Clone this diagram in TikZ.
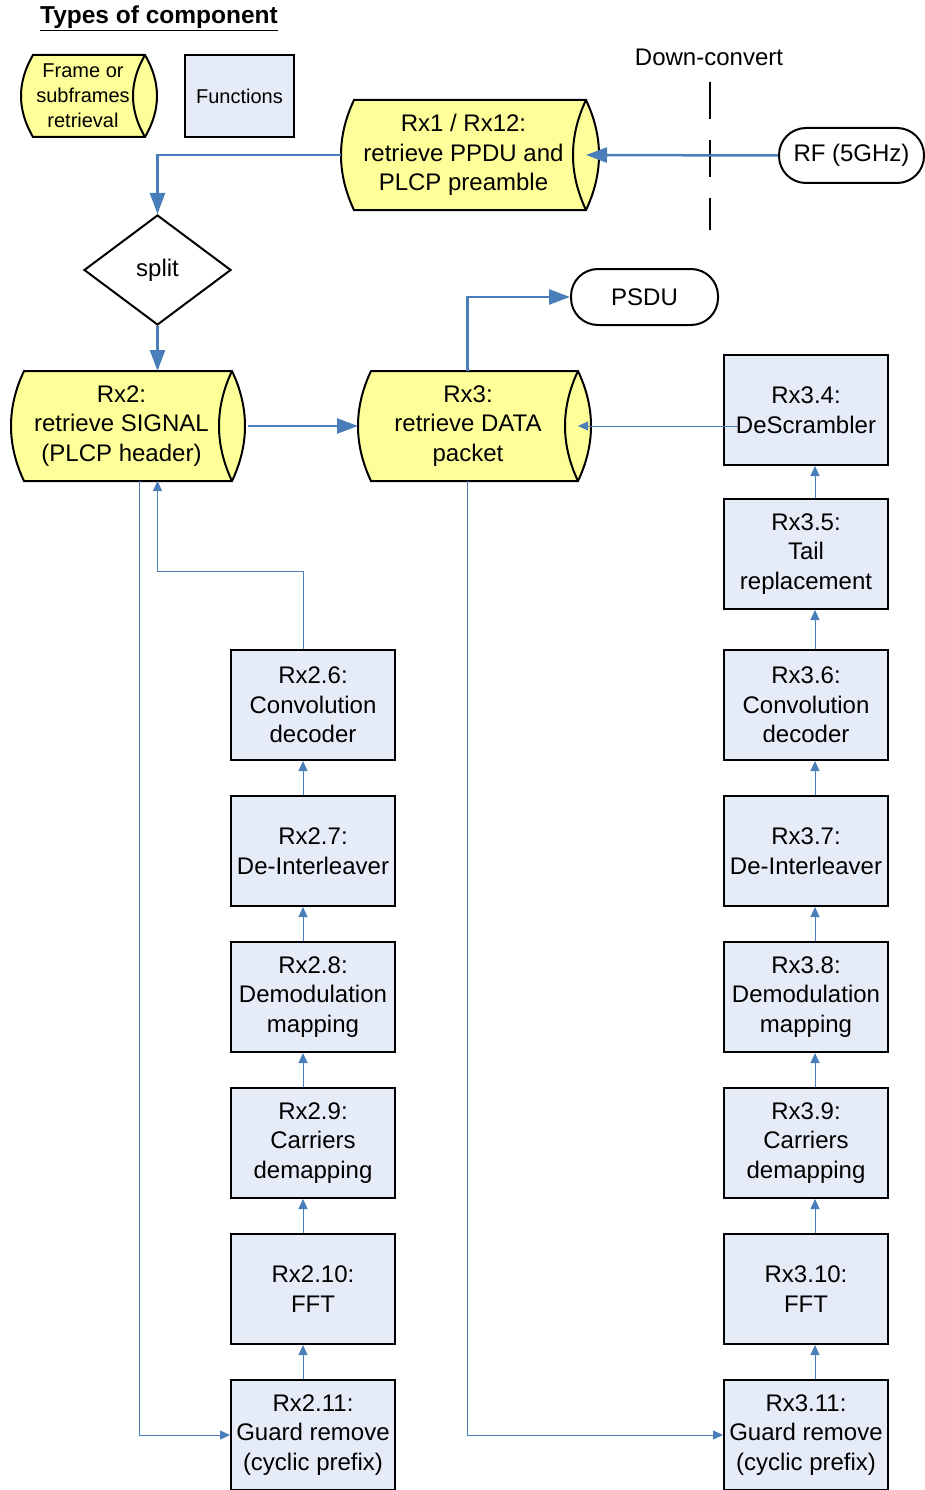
\documentclass[tikz,border=0pt]{standalone}
\usepackage{fontspec}
\setmainfont{Liberation Sans}
\usetikzlibrary{arrows.meta,shapes.geometric,calc}

\definecolor{frameyellow}{HTML}{FFFF99}
\definecolor{funcblue}{HTML}{E6ECF7}
\definecolor{linkblue}{HTML}{4A7EBB}

% Horizontal cylinder with shallow arc ends: #1 name, #2 left, #3 top,
% #4 right, #5 bottom, #6 end depth, #7 text style, #8 text
\newcommand\framecyl[8]{%
  \pgfmathsetmacro\fcL{#2+#6}%
  \pgfmathsetmacro\fcR{#4-#6}%
  \pgfmathsetmacro\fcM{(#3+#5)/2}%
  \pgfmathsetmacro\fcK{4*#6/3}%
  \pgfmathsetmacro\fcA{#3+2*(#5-#3)/6}%
  \pgfmathsetmacro\fcB{#5-2*(#5-#3)/6}%
  \filldraw[cylline] (\fcR,#3) .. controls (\fcR+\fcK,\fcA) and (\fcR+\fcK,\fcB) .. (\fcR,#5)
    -- (\fcL,#5) .. controls (\fcL-\fcK,\fcB) and (\fcL-\fcK,\fcA) .. (\fcL,#3) -- cycle;
  \draw[cylline,fill=none] (\fcR,#3) .. controls (\fcR-\fcK,\fcA) and (\fcR-\fcK,\fcB) .. (\fcR,#5);
  \node[cylbound,minimum width={#4-#2},minimum height={#5-#3}] (#1) at ({(#2+#4)/2},\fcM) {};
  \coordinate (#1-e) at (\fcR,\fcM);
  \node[#7] (#1-t) at ({(#2+#4)/2-#6/2},\fcM) {#8};
}

\begin{document}
\begin{tikzpicture}[x=1pt,y=-1pt,
  bigfont/.style={font=\fontsize{24}{29.5}\selectfont},
  smallfont/.style={font=\fontsize{20}{25}\selectfont},
  cylline/.style={draw=black,line width=2pt,fill=frameyellow,line join=miter},
  cylbound/.style={draw=none,fill=none,inner sep=0pt,outer sep=0pt},
  cyltext/.style={bigfont,align=center,inner sep=0pt},
  legtext/.style={smallfont,align=center,inner sep=0pt},
  funcbox/.style={draw=black,line width=2pt,fill=funcblue,minimum width=164pt,
    minimum height=110pt,inner sep=0pt,align=center,bigfont},
  terminal/.style={draw=black,line width=2pt,fill=white,rectangle,rounded corners=27pt,
    inner sep=0pt,bigfont},
  thicklink/.style={draw=linkblue,line width=2.5pt,-{Triangle[length=21pt,width=15pt]}},
  thinlink/.style={draw=linkblue,line width=1pt,-{Triangle[length=10pt,width=9pt]}},
]
\useasboundingbox (0,0) rectangle (925,1490);

% legend
\node[font=\bfseries\fontsize{24.5}{29}\selectfont] (title) at (159,18) {\underline{Types of component}};
\framecyl{legframe}{21}{55}{157}{137}{12}{legtext}{Frame or\\subframes\\retrieval}
\node[draw=black,line width=2pt,fill=funcblue,minimum width=109pt,minimum height=82pt,
  inner sep=0pt,smallfont] (legfunc) at (239.5,96) {Functions};

% receiver front end
\node[bigfont] (dc) at (709,57) {Down-convert};
\coordinate (dctop) at (710,82);
\coordinate (dcbot) at (710,230);
\draw[line width=2pt,dash pattern=on 37pt off 21pt] (dctop) -- (dcbot);
\node[terminal,minimum width=145pt,minimum height=55pt] (rf) at (851.5,155.5) {RF (5GHz)};
\framecyl{rx1}{341}{100}{599}{210}{13}{cyltext}{Rx1 / Rx12:\\retrieve PPDU and\\PLCP preamble}
\draw[thicklink] (rf.west) -- (rx1-e);

\node[draw=black,line width=2pt,fill=white,diamond,inner sep=0pt,minimum width=147pt,
  minimum height=110pt,bigfont] (split) at (157.5,270) {split};
\draw[thicklink] (rx1.west) -| (split.north);

% frame retrieval stages
\framecyl{rx2}{11}{371}{245}{481}{13}{cyltext}{Rx2:\\retrieve SIGNAL\\(PLCP header)}
\framecyl{rx3}{358}{371}{591}{481}{13}{cyltext}{Rx3:\\retrieve DATA\\packet}
\node[terminal,minimum width=147pt,minimum height=56pt] (psdu) at (644.5,297) {PSDU};

\draw[thicklink] (split.south) -- (split.south |- rx2.north);
\draw[thicklink] ([xshift=3pt]rx2.east) -- (rx3.west);
\draw[thicklink] ([xshift=-7pt]rx3.north) |- (psdu.west);

% SIGNAL chain
\node[funcbox] (rx26)  at (313,705)  {Rx2.6:\\Convolution\\decoder};
\node[funcbox] (rx27)  at (313,851)  {Rx2.7:\\De-Interleaver};
\node[funcbox] (rx28)  at (313,997)  {Rx2.8:\\Demodulation\\mapping};
\node[funcbox] (rx29)  at (313,1143) {Rx2.9:\\Carriers\\demapping};
\node[funcbox] (rx210) at (313,1289) {Rx2.10:\\FFT};
\node[funcbox] (rx211) at (313,1435) {Rx2.11:\\Guard remove\\(cyclic prefix)};

% DATA chain
\node[funcbox] (rx34)  at (806,410)  {Rx3.4:\\DeScrambler};
\node[funcbox] (rx35)  at (806,554)  {Rx3.5:\\Tail\\replacement};
\node[funcbox] (rx36)  at (806,705)  {Rx3.6:\\Convolution\\decoder};
\node[funcbox] (rx37)  at (806,851)  {Rx3.7:\\De-Interleaver};
\node[funcbox] (rx38)  at (806,997)  {Rx3.8:\\Demodulation\\mapping};
\node[funcbox] (rx39)  at (806,1143) {Rx3.9:\\Carriers\\demapping};
\node[funcbox] (rx310) at (806,1289) {Rx3.10:\\FFT};
\node[funcbox] (rx311) at (806,1435) {Rx3.11:\\Guard remove\\(cyclic prefix)};

% links inside the chains
\foreach \a/\b in {rx211/rx210,rx210/rx29,rx29/rx28,rx28/rx27,rx27/rx26}
  \draw[thinlink] ([xshift=-10pt]\a.north) -- ([xshift=-10pt]\b.south);
\foreach \a/\b in {rx311/rx310,rx310/rx39,rx39/rx38,rx38/rx37,rx37/rx36,rx36/rx35,rx35/rx34}
  \draw[thinlink] ([xshift=9pt]\a.north) -- ([xshift=9pt]\b.south);

% feeds into and out of the chains
\draw[thinlink] ([xshift=11pt]rx2.south) |- (rx211.west);
\draw[thinlink] ([xshift=-7pt]rx3.south) |- (rx311.west);
\draw[thinlink] ([xshift=-10pt]rx26.north) -- ++(0,-78) -| (split.south |- rx2.south);
\draw[thinlink] ([xshift=-68pt,yshift=-16pt]rx34.center) -- ([xshift=-68pt]rx34.center |- rx3-e) -- (rx3-e);

\end{tikzpicture}
\end{document}
